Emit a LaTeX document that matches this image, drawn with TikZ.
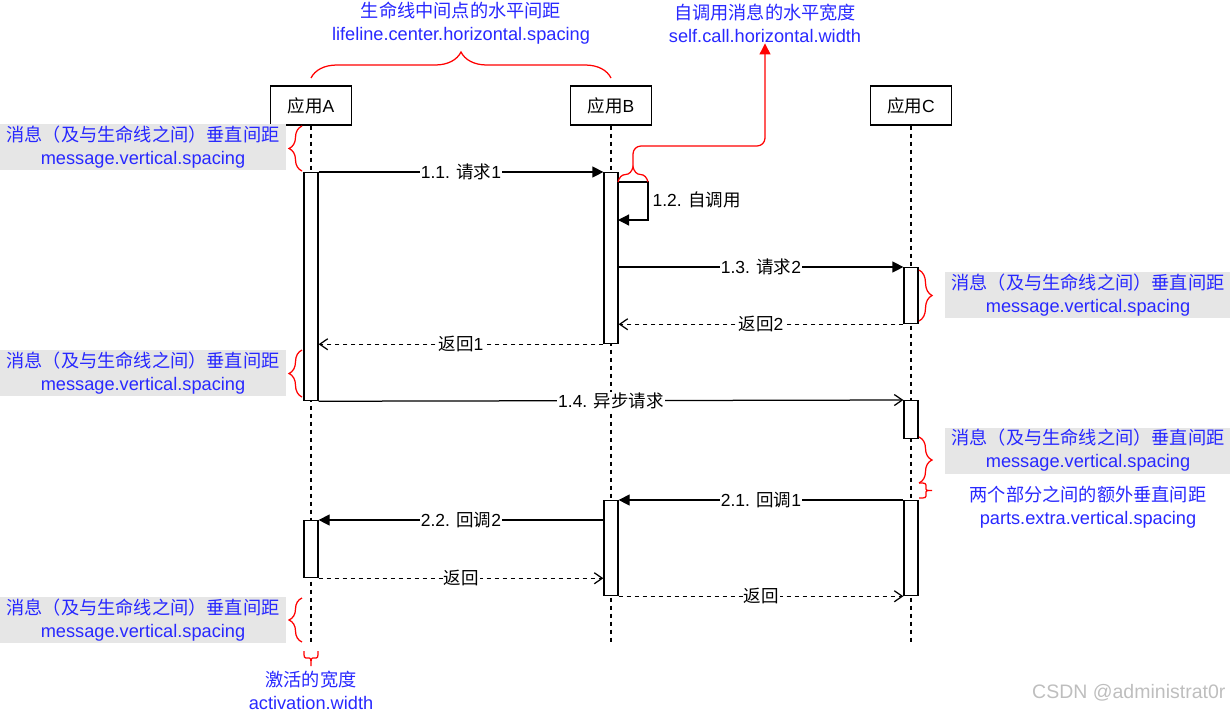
\documentclass[tikz,border=0pt]{standalone}
\usepackage{fontspec}
\setmainfont{Liberation Sans}
\newfontfamily\cjk{Noto Sans CJK SC}
\usetikzlibrary{arrows.meta,decorations.pathreplacing,calc}
\definecolor{anno}{RGB}{40,40,255}
\definecolor{gbox}{RGB}{230,230,230}
\definecolor{wmark}{RGB}{190,190,190}
\newcommand{\zh}[1]{{\cjk #1}}
\begin{document}
\begin{tikzpicture}[x=1pt,y=-1pt,
  font=\fontsize{17.5}{23}\selectfont,
  line width=1.25pt,
  head/.style={draw, fill=white, minimum width=81pt, minimum height=39pt, inner sep=0},
  act/.style={draw, fill=white, minimum width=14pt, inner sep=0, anchor=north},
  life/.style={dash pattern=on 4pt off 4pt},
  syncmsg/.style={-{Triangle[length=11pt,width=11pt]}},
  asyncmsg/.style={-{Straight Barb[length=8pt,width=11pt]}},
  retmsg/.style={asyncmsg, dash pattern=on 4pt off 4pt},
  lbl/.style={fill=white, inner sep=1pt, text=black},
  annot/.style={text=anno, align=center, inner sep=0, font=\fontsize{18.2}{23}\selectfont},
  gnote/.style={annot, fill=gbox, minimum width=286pt, minimum height=46pt},
  brc/.style={draw=red, decorate, decoration={brace, amplitude=#1}},
  redline/.style={draw=red},
]
\useasboundingbox (0,0) rectangle (1230,713);

% heads
\node[head] (hA) at (311,105.5) {\zh{应用}A};
\node[head] (hB) at (611,105.5) {\zh{应用}B};
\node[head] (hC) at (911,105.5) {\zh{应用}C};
\coordinate (eA) at (311,643);
\coordinate (eB) at (611,643);
\coordinate (eC) at (911,643);
\draw[life] (hA.south) -- (eA);
\draw[life] (hB.south) -- (eB);
\draw[life] (hC.south) -- (eC);

% activations
\node[act, minimum height=228pt] (a1) at (311,172) {};
\node[act, minimum height=57pt]  (a2) at (311,520) {};
\node[act, minimum height=171pt] (b1) at (611,172) {};
\node[act, minimum height=95pt]  (b2) at (611,500) {};
\node[act, minimum height=56pt]  (c1) at (911,267) {};
\node[act, minimum height=38pt]  (c2) at (911,400) {};
\node[act, minimum height=95pt]  (c3) at (911,500) {};

% messages
\draw[syncmsg] (a1.north east) -- node[lbl]{1.1. \zh{请求}1} (b1.north west);
\coordinate (sc1) at (618,182);
\coordinate (sc2) at (618,220);
\draw[syncmsg] (sc1) -- ++(30,0) -- ++(0,38) -- (sc2);
\node[anchor=west, inner sep=0] (sclbl) at (652,200) {1.2. \zh{自调用}};
\draw[syncmsg] (b1.east |- c1.north) -- node[lbl]{1.3. \zh{请求}2} (c1.north west);
\draw[retmsg] (c1.south west) -- node[lbl]{\zh{返回}2} (b1.east |- c1.south);
\draw[retmsg] (b1.south west) -- node[lbl]{\zh{返回}1} (a1.east |- b1.south);
\draw[asyncmsg] (a1.south east) -- node[lbl]{1.4. \zh{异步请求}} (c2.north west);
\draw[syncmsg] (c3.north west) -- node[lbl]{2.1. \zh{回调}1} (b2.north east);
\draw[syncmsg] (b2.west |- a2.north) -- node[lbl]{2.2. \zh{回调}2} (a2.north east);
\draw[retmsg] (a2.south east) -- node[lbl]{\zh{返回}} (b2.west |- a2.south);
\draw[retmsg] (b2.south east) -- node[lbl]{\zh{返回}} (c3.south west);

% annotations
\node[annot] (nTop) at (461,23.5) {\zh{生命线中间点的水平间距}\\lifeline.center.horizontal.spacing};
\node[annot] (nSelf) at (765,23.5) {\zh{自调用消息的水平宽度}\\self.call.horizontal.width};
\node[gnote] (nL1) at (143,147) {\zh{消息（及与生命线之间）垂直间距}\\message.vertical.spacing};
\node[gnote] (nL2) at (143,373) {\zh{消息（及与生命线之间）垂直间距}\\message.vertical.spacing};
\node[gnote] (nL3) at (143,620) {\zh{消息（及与生命线之间）垂直间距}\\message.vertical.spacing};
\node[gnote] (nR1) at (1088,295) {\zh{消息（及与生命线之间）垂直间距}\\message.vertical.spacing};
\node[gnote] (nR2) at (1088,450.5) {\zh{消息（及与生命线之间）垂直间距}\\message.vertical.spacing};
\node[annot] (nParts) at (1088,507.5) {\zh{两个部分之间的额外垂直间距}\\parts.extra.vertical.spacing};
\node[annot] (nAct) at (311,690) {\zh{激活的宽度}\\activation.width};
\node[text=wmark, anchor=east, inner sep=0, font=\fontsize{19.5}{23}\selectfont] (wm) at (1226,693) {CSDN @administrat0r};

% braces
\draw[brc=26pt] (311,78) -- (611,78);
\draw[brc=15pt] (618,182) -- (648,182);
\coordinate (scTip) at (633,167);
\draw[redline, rounded corners=8pt, -{Triangle[length=11pt,width=11pt]}] (scTip) -- (633,146) -- (765,146) -- (nSelf.south);
\draw[brc=13pt] (302,171) -- (302,126);
\draw[brc=13pt] (302,397) -- (302,350);
\draw[brc=13pt] (302,642) -- (302,598);
\draw[brc=13pt] (919,270) -- (919,321);
\draw[brc=13pt] (919,437) -- (919,483);
\draw[redline] (919,483) .. controls (926,483) .. (926,487.5) .. controls (926,490.5) .. (932,490.5)
   .. controls (926,490.5) .. (926,493.5) .. controls (926,498) .. (919,498);
\draw[redline] (304,651) .. controls (304,658) .. (308,658) .. controls (311,658) .. (311,666)
   .. controls (311,658) .. (314,658) .. controls (318,658) .. (318,651);
\end{tikzpicture}
\end{document}
